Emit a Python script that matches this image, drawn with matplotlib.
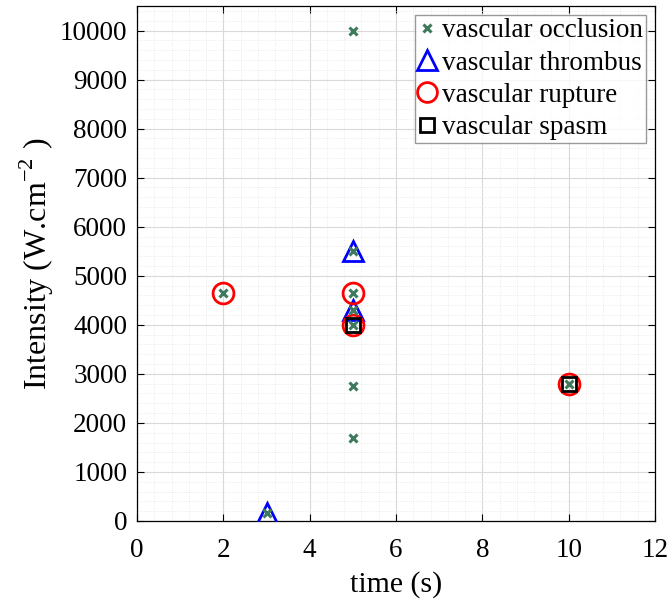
import matplotlib
matplotlib.use("Agg")
import matplotlib.pyplot as plt
from matplotlib.ticker import MultipleLocator

plt.rcParams['font.family'] = ['Liberation Serif', 'DejaVu Serif']
plt.rcParams['mathtext.fontset'] = 'custom'
plt.rcParams['mathtext.rm'] = 'Liberation Serif'

occ_x = [2, 3, 5, 5, 5, 5, 5, 5, 5, 10]
occ_y = [4650, 170, 10000, 5500, 4650, 4300, 4000, 2750, 1700, 2800]
thr_x = [3, 5, 5]
thr_y = [170, 5500, 4300]
rup_x = [2, 5, 5, 10]
rup_y = [4650, 4650, 4000, 2800]
spa_x = [5, 10]
spa_y = [4000, 2800]

fig = plt.figure(figsize=(6.72, 6.01), dpi=100)
ax = fig.add_axes([137/672, 1-521/601, (655-137)/672, (521-6)/601])

h1, = ax.plot(occ_x, occ_y, 'x', color='#3e7a5c', markersize=6, mew=2.2, zorder=6, label='vascular occlusion')
h2, = ax.plot(thr_x, thr_y, '^', mfc='none', mec='#0000ff', markersize=15, mew=2, zorder=3, label='vascular thrombus')
h3, = ax.plot(rup_x, rup_y, 'o', mfc='none', mec='#ff0000', markersize=15, mew=2, zorder=4, label='vascular rupture')
h4, = ax.plot(spa_x, spa_y, 's', mfc='none', mec='black', markersize=10, mew=2, zorder=5, label='vascular spasm')

ax.set_xlim(0, 12)
ax.set_ylim(0, 10500)
ax.xaxis.set_major_locator(MultipleLocator(2))
ax.yaxis.set_major_locator(MultipleLocator(1000))
ax.xaxis.set_minor_locator(MultipleLocator(0.4))
ax.yaxis.set_minor_locator(MultipleLocator(200))
ax.grid(True, which='major', color='#d9d9d9', linewidth=0.8, zorder=0)
ax.grid(True, which='minor', color='#e6e6e6', linewidth=0.6, linestyle=':', zorder=0)
ax.set_axisbelow(True)
ax.tick_params(which='major', direction='in', length=5, width=0.8, top=True, right=True, labelsize=19.5)
ax.tick_params(axis='x', which='major', pad=12)
ax.tick_params(axis='y', which='major', pad=7)
ax.tick_params(which='minor', length=0, top=True, right=True)
for s in ax.spines.values():
    s.set_linewidth(0.9)

ax.set_xlabel('time (s)', fontsize=21.5, labelpad=6)
ax.set_ylabel(r'Intensity (W.cm$^{\mathregular{-2}}\;$)', fontsize=23, labelpad=3)

leg = ax.legend(handles=[h1, h2, h3, h4], loc='upper right', fontsize=19.5, frameon=True,
                fancybox=False, edgecolor='#808080', handlelength=0.7, handletextpad=0.2,
                borderaxespad=0.35, borderpad=0.1, labelspacing=0.27, markerscale=0.95)
leg.get_frame().set_linewidth(1.0)

fig.savefig('out.png', dpi=100)
